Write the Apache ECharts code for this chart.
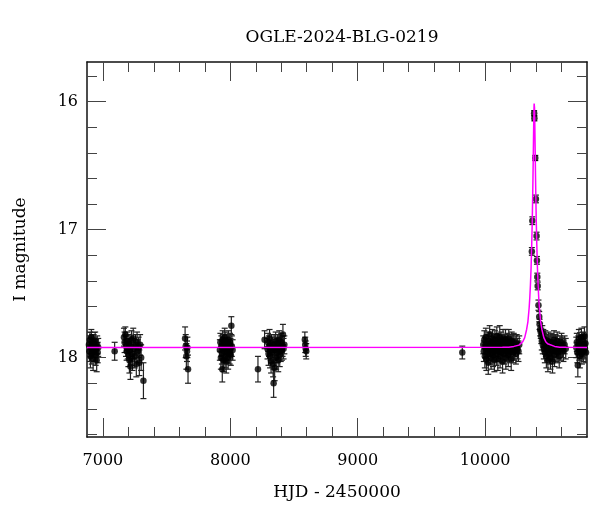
<!DOCTYPE html>
<html>
<head>
<meta charset="utf-8">
<script src="https://cdn.jsdelivr.net/npm/echarts@6/dist/echarts.min.js"></script>
<style>
html,body{margin:0;padding:0;background:#fff;}
#chart{width:600px;height:512px;}
</style>
</head>
<body>
<div id="chart"></div>
<script>
// ---- Data (HJD-2450000, I mag, error) ----
const season1 = [[6890,17.90,0.07],[6894,17.95,0.08],[6898,17.86,0.06],[6902,17.99,0.09],[6906,17.92,0.07],[6909,17.84,0.06],[6913,17.97,0.08],[6916,17.89,0.07],[6920,17.93,0.07],[6923,18.01,0.09],[6927,17.88,0.06],[6931,17.95,0.08],[6935,17.91,0.07],[6939,17.87,0.07],[6943,17.98,0.08],[6947,17.93,0.07],[6951,18.02,0.09],[6955,17.90,0.07],[6959,17.96,0.08],[6963,17.92,0.07]];
const season2 = [[7092,17.95,0.07]];
const season3 = [[7165,17.84,0.07],[7170,17.88,0.08],[7176,17.82,0.06],[7181,17.91,0.08],[7186,17.95,0.07],[7190,17.87,0.07],[7195,17.93,0.08],[7200,17.98,0.09],[7204,17.89,0.07],[7208,18.02,0.10],[7212,17.94,0.08],[7216,18.07,0.10],[7220,17.91,0.08],[7224,17.86,0.07],[7228,17.97,0.09],[7232,18.01,0.09],[7238,17.85,0.08],[7244,17.93,0.08],[7250,17.99,0.09],[7256,17.90,0.08],[7262,18.05,0.10],[7268,17.88,0.08],[7274,17.95,0.09],[7280,17.92,0.08],[7286,18.04,0.10],[7292,17.90,0.08],[7300,18.00,0.10],[7318,18.18,0.14]];
const season4 = [[7645,17.85,0.09],[7650,17.91,0.09],[7655,17.99,0.10],[7660,17.95,0.08],[7663,17.92,0.08],[7668,18.09,0.11]];
const season5 = [[7918,17.94,0.08],[7922,17.88,0.07],[7926,18.00,0.09],[7930,17.91,0.08],[7934,17.97,0.08],[7937,18.09,0.10],[7940,17.86,0.07],[7944,17.93,0.08],[7947,18.02,0.09],[7950,17.89,0.07],[7953,17.95,0.08],[7956,17.84,0.07],[7959,17.99,0.09],[7962,17.91,0.07],[7965,17.87,0.07],[7968,18.03,0.09],[7971,17.93,0.08],[7974,17.89,0.07],[7977,17.96,0.08],[7980,17.92,0.07],[7983,18.00,0.09],[7986,17.86,0.07],[7989,17.94,0.08],[7992,17.90,0.07],[7995,17.97,0.08],[7998,17.88,0.07],[8001,17.93,0.08],[8004,17.98,0.08],[8008,17.75,0.07],[8012,17.91,0.08],[8018,17.94,0.08]];
const season6 = [[8217,18.09,0.10],[8269,17.86,0.07],[8292,17.93,0.08],[8296,17.88,0.07],[8300,17.97,0.09],[8304,17.91,0.08],[8308,17.85,0.07],[8312,17.99,0.09],[8316,17.94,0.08],[8320,18.03,0.09],[8324,17.89,0.07],[8328,17.96,0.08],[8332,17.92,0.08],[8336,18.05,0.10],[8340,18.20,0.11],[8344,17.90,0.08],[8348,18.08,0.10],[8352,17.94,0.08],[8356,17.87,0.07],[8360,18.00,0.09],[8364,17.92,0.08],[8368,17.96,0.08],[8372,17.89,0.07],[8376,18.02,0.09],[8380,17.93,0.08],[8384,17.86,0.07],[8388,17.98,0.09],[8392,17.91,0.08],[8396,17.95,0.08],[8400,17.88,0.07],[8405,17.94,0.08],[8410,17.91,0.08],[8413,17.82,0.08],[8418,17.93,0.08],[8424,17.90,0.07]];
const season7 = [[8585,17.86,0.06],[8588,17.90,0.06],[8592,17.93,0.06],[8596,17.95,0.06]];
const season8 = [[9821,17.96,0.05]];
const season9 = [[9986,17.90,0.07],[9990,17.95,0.08],[9994,17.86,0.07],[9998,17.99,0.09],[10002,17.92,0.08],[10006,17.84,0.07],[10010,18.01,0.09],[10013,17.89,0.07],[10017,17.96,0.08],[10021,17.93,0.08],[10025,18.04,0.09],[10028,17.87,0.07],[10032,17.91,0.08],[10036,17.82,0.07],[10040,17.97,0.08],[10043,17.94,0.08],[10047,18.00,0.09],[10051,17.88,0.07],[10055,17.93,0.08],[10058,17.85,0.07],[10062,17.98,0.09],[10066,17.90,0.08],[10070,17.95,0.08],[10073,18.02,0.09],[10077,17.86,0.07],[10081,17.92,0.08],[10085,17.89,0.07],[10088,17.97,0.09],[10092,17.83,0.07],[10096,17.94,0.08],[10100,18.01,0.09],[10103,17.88,0.07],[10107,17.95,0.08],[10111,17.91,0.08],[10115,17.84,0.09],[10118,17.99,0.09],[10122,17.93,0.08],[10126,17.87,0.07],[10130,17.96,0.08],[10133,17.90,0.08],[10137,18.03,0.09],[10141,17.85,0.07],[10145,17.92,0.08],[10148,17.97,0.08],[10152,17.89,0.07],[10156,17.94,0.08],[10160,17.86,0.08],[10163,18.00,0.09],[10167,17.91,0.08],[10171,17.95,0.08],[10175,17.88,0.07],[10178,17.93,0.08],[10182,17.98,0.09],[10186,17.85,0.07],[10190,17.92,0.08],[10193,17.96,0.08],[10197,17.89,0.07],[10201,17.94,0.08],[10205,18.01,0.09],[10209,17.87,0.07],[10213,17.93,0.08],[10217,17.90,0.08],[10221,17.96,0.08],[10225,17.88,0.07],[10230,17.94,0.08],[10236,17.91,0.08],[10242,17.97,0.08],[10248,17.89,0.07],[10255,17.93,0.08],[10262,17.95,0.08],[10268,17.90,0.07]];
const season10peak = [[10367,17.17,0.03],[10371,16.93,0.03],[10385,16.09,0.02],[10387,16.13,0.02],[10394,16.44,0.02],[10399,16.76,0.03],[10404,17.05,0.03],[10407,17.24,0.03],[10410,17.37,0.03],[10413,17.44,0.03],[10419,17.59,0.04],[10425,17.68,0.04],[10428,17.74,0.04],[10432,17.78,0.05],[10437,17.80,0.05]];
const season10 = [[10441,17.83,0.06],[10445,17.87,0.07],[10449,17.81,0.06],[10453,17.90,0.07],[10457,17.85,0.07],[10461,17.93,0.08],[10465,17.88,0.07],[10469,17.96,0.08],[10473,17.86,0.07],[10477,17.91,0.08],[10481,17.99,0.09],[10485,17.89,0.07],[10489,17.94,0.08],[10493,18.02,0.09],[10497,17.87,0.07],[10501,17.92,0.08],[10505,17.97,0.08],[10509,17.90,0.07],[10513,18.00,0.09],[10517,17.88,0.07],[10521,17.95,0.08],[10525,17.91,0.08],[10529,18.03,0.09],[10533,17.89,0.07],[10537,17.94,0.08],[10541,17.86,0.07],[10545,17.98,0.09],[10549,17.92,0.08],[10553,17.89,0.07],[10557,17.95,0.08],[10561,17.91,0.08],[10566,17.87,0.07],[10571,17.96,0.08],[10576,17.93,0.08],[10582,17.99,0.09],[10588,17.90,0.07],[10594,17.94,0.08],[10600,17.88,0.07],[10607,17.92,0.08],[10615,17.95,0.08],[10624,17.90,0.07],[10633,17.93,0.08]];
const season11 = [[10716,17.92,0.08],[10720,17.88,0.07],[10724,17.96,0.08],[10728,18.06,0.09],[10732,17.90,0.07],[10736,17.85,0.07],[10740,17.94,0.08],[10744,17.99,0.09],[10748,17.89,0.07],[10752,17.93,0.08],[10756,17.84,0.07],[10760,17.97,0.08],[10764,17.91,0.08],[10768,17.87,0.07],[10772,17.95,0.08],[10776,17.90,0.07],[10780,17.83,0.07],[10784,17.93,0.08],[10788,17.89,0.07],[10792,17.96,0.08]];

// model curve
const modelHJD = [6875,10136,10186,10226,10266,10281,10296,10311,10326,10336,10346,10351,10356,10361,10366,10370,10373,10376,10378,10380,10382,10384,10385,10386,10387,10388,10390,10392,10394,10396,10399,10402,10406,10411,10416,10421,10426,10436,10446,10461,10476,10491,10506,10546,10586,10636,10800];
const modelMag = [17.92,17.919,17.9185,17.912,17.902,17.892,17.875,17.844,17.78,17.72,17.61,17.53,17.43,17.30,17.12,16.945,16.78,16.59,16.45,16.30,16.157,16.047,16.015,16.003,16.015,16.047,16.157,16.30,16.45,16.59,16.78,16.945,17.12,17.30,17.43,17.53,17.61,17.72,17.78,17.844,17.875,17.892,17.902,17.912,17.9185,17.919,17.92];

// axes ticks
const xMajor = [7000,8000,9000,10000];
const xMinor = [7200,7400,7600,7800,8200,8400,8600,8800,9200,9400,9600,9800,10200,10400,10600];
const yMajor = [16,17,18];
const yMinor = [15.8,16.2,16.4,16.6,16.8,17.2,17.4,17.6,17.8,18.2,18.4,18.6];
const xRange = [6875,10800];
const yRange = [15.69,18.62];

const titleText = 'OGLE-2024-BLG-0219';
const xName = 'HJD - 2450000';
const yName = 'I magnitude';

const obs = [].concat(season1,season2,season3,season4,season5,season6,season7,season8,season9,season10peak,season10,season11);
const model = modelHJD.map((t,i)=>[t,modelMag[i]]);

const FONT = 'DejaVu Serif';
const tickColor = '#444';

function xAx(pos, values, len, labels, showLine){
  return {
    type:'value', position:pos, min:xRange[0], max:xRange[1],
    axisLine:{show:showLine, onZero:false, lineStyle:{color:'#111', width:1.5}},
    axisTick:{show:true, inside:true, length:len, customValues:values, lineStyle:{color:tickColor, width:1}},
    axisLabel:labels ? {show:true, customValues:values, margin:16, color:'#000', fontFamily:FONT, fontSize:16, formatter:function(v){return String(v);}} : {show:false},
    splitLine:{show:false}
  };
}
function yAx(pos, values, len, labels, showLine){
  return {
    type:'value', position:pos, min:yRange[0], max:yRange[1], inverse:true,
    axisLine:{show:showLine, onZero:false, lineStyle:{color:'#111', width:1.5}},
    axisTick:{show:true, inside:true, length:len, customValues:values, lineStyle:{color:tickColor, width:1}},
    axisLabel:labels ? {show:true, customValues:values, margin:9, color:'#000', fontFamily:FONT, fontSize:16, formatter:function(v){return String(v);}} : {show:false},
    splitLine:{show:false}
  };
}

const xAxes = [xAx('bottom', xMajor, 19, true, true), xAx('bottom', xMinor, 10, false, false), xAx('top', xMajor, 19, false, true), xAx('top', xMinor, 10, false, false)];
Object.assign(xAxes[0], {name:xName, nameLocation:'middle', nameGap:47, nameTextStyle:{fontFamily:FONT, fontSize:17, color:'#000'}});
const yAxes = [yAx('left', yMajor, 19, true, true), yAx('left', yMinor, 10, false, false), yAx('right', yMajor, 19, false, true), yAx('right', yMinor, 10, false, false)];
Object.assign(yAxes[0], {name:yName, nameLocation:'middle', nameGap:58, nameTextStyle:{fontFamily:FONT, fontSize:17, color:'#000'}});

const chart = echarts.init(document.getElementById('chart'), null, {renderer:'canvas'});
chart.setOption({
  animation:false,
  backgroundColor:'#fff',
  title:{text:titleText, left:337, top:24, textAlign:'center', textStyle:{fontFamily:FONT, fontSize:17, fontWeight:'normal', color:'#000'}},
  grid:{left:87, top:62, width:500, height:375, containLabel:false},
  xAxis:xAxes,
  yAxis:yAxes,
  series:[
    {
      type:'custom', xAxisIndex:0, yAxisIndex:0, z:2, clip:true,
      data:obs,
      encode:{x:0, y:1},
      renderItem:function(params, api){
        const t = api.value(0), m = api.value(1), e = api.value(2);
        const a = api.coord([t, m - e]);
        const b = api.coord([t, m + e]);
        const w = 3;
        const st = {stroke:'#222', lineWidth:1.2};
        return {type:'group', children:[
          {type:'line', shape:{x1:a[0], y1:a[1], x2:b[0], y2:b[1]}, style:st},
          {type:'line', shape:{x1:a[0]-w, y1:a[1], x2:a[0]+w, y2:a[1]}, style:st},
          {type:'line', shape:{x1:b[0]-w, y1:b[1], x2:b[0]+w, y2:b[1]}, style:st}
        ]};
      }
    },
    {
      type:'scatter', xAxisIndex:0, yAxisIndex:0, z:3,
      data:obs.map(d=>[d[0], d[1]]),
      symbol:'circle', symbolSize:6.5,
      itemStyle:{color:'#000'}
    },
    {
      type:'line', xAxisIndex:0, yAxisIndex:0, z:4,
      data:model, showSymbol:false, smooth:false,
      lineStyle:{color:'#ff00ff', width:1.5}
    }
  ]
});
</script>
</body>
</html>
